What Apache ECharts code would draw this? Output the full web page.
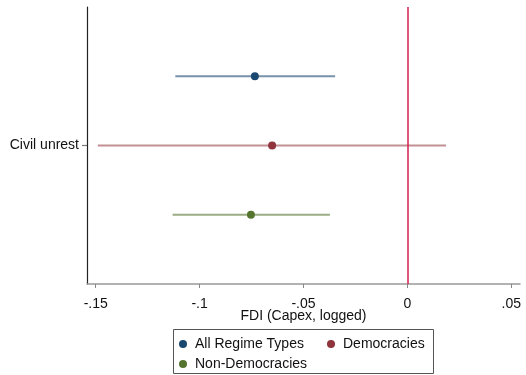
<!DOCTYPE html>
<html>
<head>
<meta charset="utf-8">
<script src="https://cdn.jsdelivr.net/npm/echarts@6/dist/echarts.min.js"></script>
<style>
  html, body { margin: 0; padding: 0; background: #fff; }
  #chart { width: 526px; height: 375px; }
</style>
</head>
<body>
<div id="chart"></div>
<script>
// coefficient plot data
const rowLabel = 'Civil unrest';
const models = ['All Regime Types', 'Democracies', 'Non-Democracies'];
const rowPos = [1, 0, -1];               // vertical offset of each model around the row
const estimates = [-0.0734, -0.0651, -0.0753];
const ciLow = [-0.1117, -0.149, -0.113];
const ciHigh = [-0.0348, 0.0186, -0.0373];
const xTicks = [-0.15, -0.1, -0.05, 0, 0.05];
const xTickLabels = ['-.15', '-.1', '-.05', '0', '.05'];

const dotColors = ['#1a476f', '#90353b', '#55752f'];
const ciColors = ['rgba(26,71,111,0.6)', 'rgba(144,53,59,0.55)', 'rgba(85,117,47,0.6)'];
const font = 'Liberation Sans, Arial, sans-serif';

let chart = echarts.init(document.getElementById('chart'), null, { renderer: 'canvas' });

let series = [];
models.forEach((m, i) => {
  series.push({
    name: m + ' CI',
    type: 'line',
    data: [[ciLow[i], rowPos[i]], [ciHigh[i], rowPos[i]]],
    symbol: 'none',
    silent: true,
    lineStyle: { color: ciColors[i], width: 2 },
    z: 2
  });
});
models.forEach((m, i) => {
  series.push({
    name: m,
    type: 'scatter',
    data: [[estimates[i], rowPos[i]]],
    symbol: 'circle',
    symbolSize: 8,
    itemStyle: { color: dotColors[i], opacity: 1 },
    z: 4
  });
});
// reference line at zero
series[0].markLine = {
  silent: true,
  symbol: 'none',
  label: { show: false },
  lineStyle: { color: '#d4204f', width: 1.5, type: 'solid' },
  data: [{ xAxis: 0 }],
  z: 3
};

let option = {
  animation: false,
  textStyle: { fontFamily: font },
  grid: { left: 87, right: 6, top: 7, bottom: 91 },
  xAxis: {
    type: 'value',
    min: -0.1542,
    max: 0.0542,
    name: 'FDI (Capex, logged)',
    nameLocation: 'middle',
    nameGap: 25,
    nameMoveOverlap: false,
    nameTextStyle: { color: '#111', fontSize: 14, fontFamily: font },
    axisLine: { show: true, onZero: false, lineStyle: { color: '#999', width: 1.5 } },
    axisTick: { show: true, length: 4, lineStyle: { color: '#888' }, customValues: xTicks },
    axisLabel: {
      color: '#111', fontSize: 14, fontFamily: font, margin: 13,
      customValues: xTicks,
      formatter: v => {
        let k = xTicks.findIndex(t => Math.abs(t - v) < 1e-9);
        return k >= 0 ? xTickLabels[k] : '';
      }
    },
    splitLine: { show: false }
  },
  yAxis: {
    type: 'value',
    min: -2,
    max: 2,
    axisLine: { show: true, onZero: false, lineStyle: { color: '#222', width: 1.2 } },
    axisTick: { show: true, length: 5, lineStyle: { color: '#777', width: 1.2 }, customValues: [0] },
    axisLabel: {
      color: '#111', fontSize: 14, fontFamily: font, margin: 8,
      customValues: [0],
      formatter: v => (v === 0 ? rowLabel : '')
    },
    splitLine: { show: false }
  },
  legend: {
    data: models.map((m, i) => ({ name: m, itemStyle: { color: dotColors[i] } })),
    left: 179,
    top: 334,
    width: 310,
    padding: 0,
    itemGap: 0,
    icon: 'circle',
    itemWidth: 14,
    itemHeight: 8,
    selectedMode: false,
    textStyle: { color: '#111', fontSize: 14, fontFamily: font, width: 132, lineHeight: 20 }
  },
  graphic: [{
    type: 'rect',
    shape: { x: 173.5, y: 329.5, width: 260, height: 44 },
    style: { fill: 'none', stroke: '#555', lineWidth: 1 },
    silent: true
  }],
  series: series
};

chart.setOption(option);
</script>
</body>
</html>
